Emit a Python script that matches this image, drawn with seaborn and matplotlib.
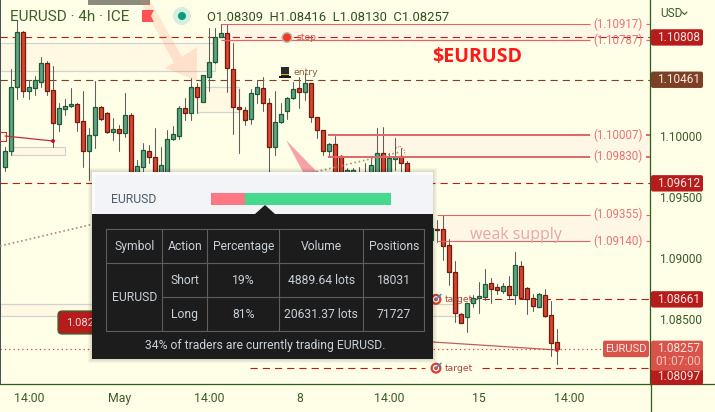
import numpy as np
import pandas as pd
import matplotlib
matplotlib.use("Agg")
import matplotlib.pyplot as plt
import seaborn as sns
from matplotlib.patches import Rectangle, FancyBboxPatch, Polygon, Circle

# candle data (some are hidden behind the popup so rough guess)
opens = [1.09746, 1.09877, 1.10402, 1.10853, 1.10369, 1.10394, 1.10443, 1.10599, 1.10377, 1.10098,
         1.10221, 1.10246, 1.10262, 1.10123, 1.09877, 1.10008, 1.10238, 1.10189, 1.10033, 1.10057,
         1.10025, 1.10172, 1.09656, 1.09746, 1.09877, 1.09828, 1.09672, 1.09705, 1.09975, 1.10000,
         1.10230, 1.10189, 1.10402, 1.10279, 1.10484, 1.10607, 1.10812, 1.10845, 1.10549, 1.10238,
         1.10213, 1.10139, 1.10344, 1.10394, 1.10271, 1.09910, 1.10115, 1.10205, 1.10312, 1.10394,
         1.10361, 1.10435, 1.10156, 1.10049, 1.09877, 1.09934, 1.09836, 1.09557, 1.09598, 1.09557,
         1.09557, 1.09598, 1.09639, 1.09861, 1.09598, 1.09811, 1.09836, 1.09779, 1.09557, 1.09434,
         1.09213, 1.09147, 1.09237, 1.09237, 1.09106, 1.08885, 1.08540, 1.08516, 1.08631, 1.08672,
         1.08680, 1.08795, 1.08762, 1.08729, 1.08770, 1.08696, 1.08934, 1.08754, 1.08672, 1.08598,
         1.08696, 1.08532, 1.08309]
highs = [1.09910, 1.10549, 1.10951, 1.10861, 1.10459, 1.10492, 1.10648, 1.10615, 1.10574, 1.10271,
         1.10303, 1.10394, 1.10271, 1.10369, 1.10066, 1.10451, 1.10246, 1.10197, 1.10148, 1.10090,
         1.10353, 1.10189, 1.09803, 1.09943, 1.09926, 1.10066, 1.09910, 1.10049, 1.10082, 1.10246,
         1.10312, 1.10476, 1.10435, 1.10500, 1.10886, 1.10886, 1.10918, 1.10918, 1.10763, 1.10385,
         1.10238, 1.10385, 1.10459, 1.10484, 1.10312, 1.10369, 1.10271, 1.10320, 1.10443, 1.10484,
         1.10517, 1.10435, 1.10156, 1.10049, 1.09943, 1.10000, 1.09844, 1.09738, 1.09738, 1.09746,
         1.09779, 1.09828, 1.10066, 1.10074, 1.09861, 1.09984, 1.09902, 1.09795, 1.09598, 1.09475,
         1.09377, 1.09344, 1.09311, 1.09352, 1.09155, 1.08975, 1.08549, 1.08631, 1.08696, 1.08803,
         1.08909, 1.08836, 1.08786, 1.08795, 1.08852, 1.09049, 1.08975, 1.08762, 1.08704, 1.08713,
         1.08745, 1.08647, 1.08416]
lows = [1.09713, 1.09844, 1.10303, 1.10320, 1.10303, 1.10336, 1.10402, 1.10336, 1.09910, 1.10041,
        1.10172, 1.10238, 1.10041, 1.09746, 1.09639, 1.09902, 1.10131, 1.10025, 1.09967, 1.09877,
        1.09992, 1.09598, 1.09598, 1.09680, 1.09779, 1.09639, 1.09639, 1.09656, 1.09967, 1.09975,
        1.10131, 1.10131, 1.10189, 1.10279, 1.10369, 1.10599, 1.10812, 1.10361, 1.10016, 1.09861,
        1.10090, 1.10098, 1.10271, 1.10205, 1.09705, 1.09844, 1.10107, 1.10139, 1.10303, 1.10230,
        1.10295, 1.10115, 1.09984, 1.09844, 1.09828, 1.09598, 1.09475, 1.09516, 1.09516, 1.09516,
        1.09475, 1.09516, 1.09557, 1.09557, 1.09557, 1.09721, 1.09680, 1.09475, 1.09377, 1.09278,
        1.09164, 1.09114, 1.09131, 1.08983, 1.08778, 1.08475, 1.08467, 1.08393, 1.08598, 1.08549,
        1.08655, 1.08631, 1.08704, 1.08713, 1.08672, 1.08622, 1.08672, 1.08540, 1.08565, 1.08598,
        1.08516, 1.08196, 1.08130]
closes = [1.09877, 1.10402, 1.10853, 1.10369, 1.10402, 1.10459, 1.10599, 1.10369, 1.10107, 1.10230,
          1.10246, 1.10262, 1.10115, 1.09877, 1.10008, 1.10238, 1.10139, 1.10033, 1.10057, 1.10025,
          1.10172, 1.09656, 1.09754, 1.09885, 1.09828, 1.09672, 1.09762, 1.09975, 1.10016, 1.10230,
          1.10189, 1.10402, 1.10320, 1.10500, 1.10607, 1.10812, 1.10845, 1.10558, 1.10238, 1.10221,
          1.10131, 1.10353, 1.10402, 1.10271, 1.09910, 1.10115, 1.10180, 1.10312, 1.10385, 1.10361,
          1.10435, 1.10156, 1.10049, 1.09877, 1.09934, 1.09639, 1.09557, 1.09721, 1.09721, 1.09680,
          1.09705, 1.09762, 1.09861, 1.09639, 1.09820, 1.09828, 1.09779, 1.09557, 1.09434, 1.09328,
          1.09328, 1.09246, 1.09229, 1.09098, 1.08885, 1.08549, 1.08467, 1.08631, 1.08672, 1.08688,
          1.08786, 1.08745, 1.08737, 1.08770, 1.08696, 1.08942, 1.08672, 1.08663, 1.08606, 1.08704,
          1.08524, 1.08303, 1.08257]

price_ticks = [1.085, 1.09, 1.095, 1.10]
time_ticks = [4, 19, 34, 49, 64, 79, 94]
time_labels = ["14:00", "May", "14:00", "8", "14:00", "15", "14:00"]

# levels on the chart
zone_levels = [1.10917, 1.10787, 1.10007, 1.09830, 1.09355, 1.09140]
tag_prices = [1.10808, 1.10461, 1.09612, 1.08661, 1.08097]
last_price = 1.08257
zone_boxes = [(0, 215, 1.10533, 1.10762), (197, 239, 1.10197, 1.10402),
              (12, 65, 1.09844, 1.09910), (0, 458, 1.08524, 1.08622)]

# popup table
short_pct = 19
long_pct = 81
table_header = ["Symbol", "Action", "Percentage", "Volume", "Positions"]
short_row = ["Short", "19%", "4889.64 lots", "18031"]
long_row = ["Long", "81%", "20631.37 lots", "71727"]
table_note = "34% of traders are currently trading EURUSD."

BG = "#FFFFE8"
GREEN_TXT = "#3B5B27"
DARK_RED = "#B71C1C"
BROWN = "#7B4026"
LIGHT_RED = "#E57373"
SOFT_RED = "#D9534A"
ZONE = "#FFF7E6"

sns.set_theme(style="white", rc={"axes.facecolor": BG, "figure.facecolor": BG})
plt.rcParams["font.family"] = ["Roboto", "DejaVu Sans"]

fig = plt.figure(figsize=(7.15, 4.12), dpi=100)
ax = fig.add_axes([0, 28 / 412, 650 / 715, 384 / 412])
ov = fig.add_axes([0, 0, 1, 1], zorder=5)
ov.set_xlim(0, 715)
ov.set_ylim(412, 0)
ov.axis("off")

df = pd.DataFrame({"open": opens, "high": highs, "low": lows, "close": closes})
df["candle"] = df.index
df["bottom"] = df[["open", "close"]].min(axis=1)
df["height"] = (df["close"] - df["open"]).abs()
up = df[df["close"] >= df["open"]]
down = df[df["close"] < df["open"]]
wicks = df.melt(id_vars="candle", value_vars=["high", "low"], value_name="price").sort_values("candle")

sns.lineplot(data=wicks, x="candle", y="price", units="candle", estimator=None, sort=False,
             color="#5F5F5F", lw=0.75, legend=False, ax=ax, zorder=2)
sns.barplot(x=up["candle"].values, y=up["height"].values, bottom=up["bottom"].values, native_scale=True,
            errorbar=None, width=0.72, color="#62A27F", saturation=1, edgecolor="#1C5A38", linewidth=0.9,
            ax=ax, zorder=3)
sns.barplot(x=down["candle"].values, y=down["height"].values, bottom=down["bottom"].values, native_scale=True,
            errorbar=None, width=0.72, color="#D9432F", saturation=1, edgecolor="#6E1C10", linewidth=0.9,
            ax=ax, zorder=3)

ax.set_xlim(-5.3 / 6, (650 - 5.3) / 6)
ax.set_ylim(1.1 - 248 / 12200, 1.1 + 136 / 12200)
ax.set_xlabel("")
ax.set_ylabel("")
ax.grid(False)
ax.yaxis.tick_right()
ax.set_yticks(price_ticks)
ax.set_yticklabels([f"{p:.5f}" for p in price_ticks])
ax.set_xticks(time_ticks)
ax.set_xticklabels(time_labels)
ax.tick_params(axis="y", length=0, pad=6.2, labelsize=8.6, labelcolor=GREEN_TXT)
ax.tick_params(axis="x", length=0, pad=6, labelsize=8.8, labelcolor=GREEN_TXT)
ax.spines["top"].set_visible(False)
ax.spines["left"].set_color("#2A3A4A")
for side in ["right", "bottom"]:
    ax.spines[side].set_color("#2E5A1C")
    ax.spines[side].set_linewidth(0.9)

ytr = ax.get_yaxis_transform()


def fx(px):
    return px / 650


def py(price):
    # price -> pixel row of the overlay axes
    disp = ax.transData.transform((0, price))
    return ov.transData.inverted().transform(disp)[1]


# zones behind the candles
for x0, x1, p0, p1 in zone_boxes:
    ax.add_patch(Rectangle((fx(x0), p0), fx(x1 - x0), p1 - p0, transform=ytr, fc="#FFF8E2",
                           ec="#D2D2D2", lw=0.9, zorder=1))
for (p1, p0), x0 in zip([zone_levels[:2], zone_levels[2:4], zone_levels[4:]], [221, 328, 437]):
    ax.axhspan(p0, p1, xmin=fx(x0), xmax=1, color=ZONE, lw=0, zorder=1)

# dashed levels
dash = (0, (6.5, 4.5))
ax.hlines(1.10808, 0, 1, transform=ytr, color=DARK_RED, lw=0.8, ls=dash, zorder=1.5)
ax.hlines(1.10461, 0, 1, transform=ytr, color=BROWN, lw=0.8, ls=dash, zorder=1.5)
ax.hlines(1.09612, 0, 1, transform=ytr, color=DARK_RED, lw=0.8, ls=dash, zorder=1.5)
ax.hlines(1.08661, fx(470), 1, transform=ytr, color=DARK_RED, lw=0.8, ls=dash, zorder=1.5)
ax.hlines(1.08097, fx(250), fx(425), transform=ytr, color=DARK_RED, lw=0.8, ls=dash, zorder=1.5)
ax.hlines(1.08097, fx(482), 1, transform=ytr, color=DARK_RED, lw=0.8, ls=dash, zorder=1.5)
ax.hlines(last_price, 0, fx(602), transform=ytr, color="#E53935", lw=0.9, ls=(0, (1, 2.5)), zorder=1.5)

# solid levels with their price labels
for i, p in enumerate(zone_levels):
    start = [221, 221, 328, 328, 437, 437][i]
    lw = [0.8, 0.9, 1.4, 1.4, 0.8, 0.8][i]
    ax.hlines(p, fx(start), fx(590), transform=ytr, color="#E06666", lw=lw, zorder=4)
    ax.hlines(p, fx(646), 1, transform=ytr, color="#E06666", lw=lw, zorder=4)
    ov.text(618, py(p), f"({p:.5f})", color=LIGHT_RED, fontsize=8.3, ha="center", va="center", zorder=4)

# header
ov.add_patch(Rectangle((88, 0), 62, 4.5, fc="#8C8C7E", ec="none", zorder=6))
ov.text(10, 16.5, "EURUSD · 4h · ICE", color="#3E5F26", fontsize=11, va="center", zorder=8)
ov.add_patch(Polygon([(142, 10), (154, 10), (151, 16), (154, 22), (142, 22)], fc="#FF5252", ec="none", zorder=8))
ov.add_patch(Circle((182, 16), 9, fc="#D5EEDD", ec="none", zorder=8))
ov.add_patch(Circle((182, 16), 4, fc="#0A9A82", ec="none", zorder=9))
ov.text(207, 17, "O1.08309  H1.08416  L1.08130  C1.08257", color="#2F4F1F", fontsize=9.4, va="center", zorder=8)
ov.text(432, 57, "$EURUSD", color="#FF1A1A", fontsize=14.1, fontweight="bold", family="Open Sans",
        va="center", zorder=8)
ov.text(470, 235, "weak supply", color="#E8A6A6", fontsize=11.5, va="center", family="Open Sans", zorder=8)
ov.text(660, 13, "USD", color=GREEN_TXT, fontsize=8.6, va="center", zorder=8)
ov.plot([682, 684.5, 687], [12, 14.5, 12], color=GREEN_TXT, lw=0.8, zorder=8)

# pink arrows
ov.add_patch(Polygon([(140, 0), (150, 0), (182, 57), (197, 47), (197, 81), (165, 68), (174, 63)],
                     fc="#FF7A64", alpha=0.18, ec="none", zorder=6))
ov.add_patch(Polygon([(286, 140), (317, 172), (303, 172)], fc="#F7919B", alpha=0.85, ec="none", zorder=6))

# stop / entry / target markers
small = dict(fontsize=6.7, family="DejaVu Sans", va="center", zorder=8)
ov.add_patch(Circle((287, 37.5), 5.5, fc="#B8B8B8", ec="none", zorder=7))
ov.add_patch(Circle((287, 37.5), 4, fc="#F03A20", ec="none", zorder=8))
ov.text(297, 37.5, "stop", color="#C8564A", **small)
ov.add_patch(Rectangle((279, 76), 12, 1.6, fc="#1A1A1A", ec="none", zorder=8))
ov.add_patch(Rectangle((281, 67), 8, 9, fc="#2A2A2A", ec="none", zorder=8))
ov.add_patch(Rectangle((281, 74), 8, 1, fc="#E0B020", ec="none", zorder=9))
ov.text(294, 72, "entry", color="#8B5E3C", **small)
for p in [1.08661, 1.08097]:
    ov.add_patch(Circle((436, py(p)), 5.5, fc="#D8402F", ec="none", zorder=7))
    ov.add_patch(Circle((436, py(p)), 3.2, fc="white", ec="none", zorder=8))
    ov.add_patch(Circle((436, py(p)), 1.9, fc="#D8402F", ec="none", zorder=9))
    ov.plot([436, 441], [py(p), py(p) - 5], color="#3F8FC8", lw=1.1, zorder=9)
    ov.text(445, py(p), "target", color="#A8453C", **small)

# trend stuff on the left and at the last candle
ov.add_patch(Rectangle((-1, 132), 6.5, 9, fc="none", ec="#D03030", lw=0.8, zorder=7))
ov.plot([5, 53], [136, 141], color="#C0303A", lw=0.9, zorder=7)
ov.add_patch(Circle((53, 141), 2, fc="#C4122E", ec="none", zorder=8))
ov.plot([0, 400], [246, 152], color="#AD8C72", lw=1.2, ls=(0, (1, 1.6)), zorder=6)
ov.plot([396, 400, 404, 405], [148, 146, 150, 155], color="#AD8C72", lw=0.8, ls=(0, (1, 1.2)), zorder=6)
ov.plot([433, 557], [342, 350], color="#B5333A", lw=0.9, alpha=0.8, zorder=7)
ov.add_patch(Circle((557, 350), 2, fc="#C62828", ec="none", zorder=8))
ov.add_patch(FancyBboxPatch((58, 311), 40, 23, boxstyle="round,pad=0,rounding_size=4", fc=DARK_RED,
                            ec="#2E6B2E", lw=0.9, zorder=8))
ov.text(66, 323, "1.0824", color="#F6D5D5", fontsize=8, va="center", zorder=9)

# price tags on the right
tag_colors = [DARK_RED, BROWN, DARK_RED, DARK_RED, DARK_RED]
tag_shift = [0, 0, 0, 0, 8.5]
for p, col, shift in zip(tag_prices, tag_colors, tag_shift):
    y = py(p) + shift
    ov.add_patch(FancyBboxPatch((651, y - 8.2), 52, 16.4, boxstyle="round,pad=0,rounding_size=2", fc=col,
                                ec="none", zorder=10, clip_on=False))
    ov.text(678.5, y, f"{p:.5f}", color="#FCE8E0", fontsize=8.6, ha="center", va="center", zorder=11)
y = py(last_price)
ov.add_patch(FancyBboxPatch((651, y - 8), 52, 30, boxstyle="round,pad=0,rounding_size=2", fc=SOFT_RED,
                            ec="none", zorder=12))
ov.text(678.5, y, f"{last_price:.5f}", color="#FCE8E0", fontsize=8.6, ha="center", va="center", zorder=13)
ov.text(678.5, y + 13, "01:07:00", color="#F6C4BC", fontsize=8.6, ha="center", va="center", zorder=13)
ov.add_patch(FancyBboxPatch((603, y - 8), 46, 16.5, boxstyle="round,pad=0,rounding_size=2", fc=SOFT_RED,
                            ec="none", zorder=12))
ov.text(626, y, "EURUSD", color="#FCE8E0", fontsize=8, ha="center", va="center", zorder=13)
ov.plot([650.5, 650.5], [384, 412], color="#2E5A1C", lw=0.9, zorder=9)
ov.plot([650, 715], [384, 384], color="#2E5A1C", lw=0.9, zorder=9)

# popup
for k in range(1, 5):
    ov.add_patch(Rectangle((92 - k, 172 - k), 341 + 2 * k, 187 + 2 * k, fc="black", alpha=0.035, ec="none", zorder=19))
ov.add_patch(Rectangle((92, 172), 341, 42, fc="#FBFBFB", ec="none", zorder=20))
ov.add_patch(Rectangle((95, 175), 338, 39, fc="#F2F4F7", ec="none", zorder=20))
ov.add_patch(Rectangle((92, 214), 341, 145, fc="#1C1C1C", ec="none", zorder=20))
ov.add_patch(Polygon([(255, 214), (265, 205), (275, 214)], fc="#1C1C1C", ec="none", zorder=21))
ov.text(111, 199, "EURUSD", color="#4E5A6A", fontsize=8.8, va="center", zorder=21)

bar_x, bar_w = 211, 180
short_w = bar_w * short_pct / (short_pct + long_pct)
ov.add_patch(Rectangle((bar_x, 193), short_w, 12, fc="#FF7783", ec="none", zorder=21))
ov.add_patch(Rectangle((bar_x + short_w, 193), bar_w - short_w, 12, fc="#45D88F", ec="none", zorder=21))

col_x = [106.3, 162.3, 207.3, 279.3, 363.3, 424.3]
row_y = [229.3, 263.3, 297.3, 331.3]
grid = dict(color="#5E5E5E", lw=0.8, zorder=21)
for x in col_x:
    ov.plot([x, x], [row_y[0], row_y[-1]], **grid)
ov.plot([col_x[0], col_x[-1]], [row_y[0], row_y[0]], **grid)
ov.plot([col_x[0], col_x[-1]], [row_y[1], row_y[1]], **grid)
ov.plot([col_x[1], col_x[-1]], [row_y[2], row_y[2]], **grid)
ov.plot([col_x[0], col_x[-1]], [row_y[3], row_y[3]], **grid)

cell = dict(color="#C9D1D9", fontsize=8.7, ha="center", va="center", zorder=22)
centers = [(a + b) / 2 for a, b in zip(col_x[:-1], col_x[1:])]
for c, txt in zip(centers, table_header):
    ov.text(c, (row_y[0] + row_y[1]) / 2, txt, **cell)
ov.text(centers[0], row_y[2], "EURUSD", **cell)
for c, txt in zip(centers[1:], short_row):
    ov.text(c, (row_y[1] + row_y[2]) / 2, txt, **cell)
for c, txt in zip(centers[1:], long_row):
    ov.text(c, (row_y[2] + row_y[3]) / 2, txt, **cell)
ov.text(265, 345, table_note, **cell)

fig.savefig("out.png", dpi=100, facecolor=BG)
